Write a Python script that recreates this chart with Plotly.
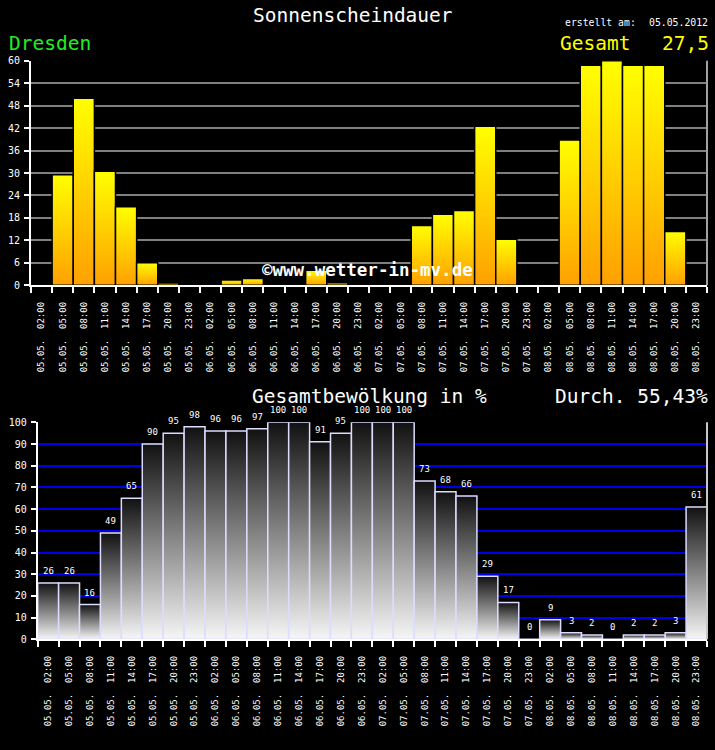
import plotly.graph_objects as go

W, H = 715, 750

# ---------------- data ----------------
times = ["02:00", "05:00", "08:00", "11:00", "14:00", "17:00", "20:00", "23:00"]
days = ["05.05.", "06.05.", "07.05.", "08.05."]
tick_labels = [f"{d}  {t}" for d in days for t in times]

sun_minutes = [0, 29.5, 50, 30.5, 21, 6, 0.6, 0,
               0, 1.4, 1.8, 0, 0, 4, 0.7, 0,
               0, 0, 16, 19, 20, 42.5, 12.3, 0,
               0, 38.8, 58.8, 60, 58.8, 58.8, 14.4, 0]
cloud_pct = [26, 26, 16, 49, 65, 90, 95, 98, 96, 96, 97, 100, 100, 91, 95, 100,
             100, 100, 73, 68, 66, 29, 17, 0, 9, 3, 2, 0, 2, 2, 3, 61]

sun_ticks = list(range(0, 61, 6))
cloud_ticks = list(range(0, 101, 10))

FONT = "DejaVu Sans Mono"
n = len(tick_labels)
idx = list(range(n))
bounds = [k - 0.5 for k in range(n + 1)]

fig = go.Figure()


def add_bars(vals, xa, ya, cs, line_color, draw_zero):
    for k, v in enumerate(vals):
        if v == 0 and not draw_zero:
            continue
        xs = [k - 0.5, k - 0.5, k + 0.5, k + 0.5, k - 0.5]
        ys = [0, v, v, 0, 0]
        tr = go.Scatter(x=xs, y=ys, xaxis=xa, yaxis=ya, mode="lines",
                        line=dict(color=line_color, width=1.5),
                        hoverinfo="skip", showlegend=False)
        if v > 0:
            tr.update(fill="toself",
                      fillgradient=dict(type="vertical", colorscale=cs))
        fig.add_trace(tr)


add_bars(sun_minutes, "x", "y", [[0, "#ffa000"], [1, "#ffff00"]], "#000000", False)
add_bars(cloud_pct, "x2", "y2", [[0, "#f6f6f6"], [1, "#111111"]], "#dcdcff", True)

# value labels on cloud bars
annotations = []
for k, v in enumerate(cloud_pct):
    annotations.append(dict(x=k, y=v, xref="x2", yref="y2", text=str(v),
                            showarrow=False, yshift=12, borderpad=0,
                            font=dict(family=FONT, size=9, color="white")))


def px_x(p):
    return p / W


def px_y(p):
    return 1 - p / H


def txt(text, x, y, size, color, xanchor="left", bold=False):
    t = f"<b>{text}</b>" if bold else text
    annotations.append(dict(x=px_x(x), y=px_y(y), xref="paper", yref="paper",
                            text=t, showarrow=False, xanchor=xanchor,
                            yanchor="middle",
                            font=dict(family=FONT, size=size, color=color)))


txt("Sonnenscheindauer", 352.5, 15, 19.5, "white", "center")
txt("erstellt am:", 563, 23, 9.8, "white")
txt("05.05.2012", 710, 23, 9.8, "white", "right")
txt("Dresden", 7, 43, 19.5, "#22ee22")
txt("Gesamt", 558, 43, 19.5, "#ffff00")
txt("27,5", 711, 43, 19.5, "#ffff00", "right")
txt("Gesamtbewölkung in %", 250, 396, 19.5, "white")
txt("Durch. 55,43%", 710, 396, 19.5, "white", "right")
txt("©www.wetter-in-mv.de", 260, 270, 17.5, "white", bold=True)

tickfont_x = dict(family=FONT, size=9, color="white")
tickfont_y = dict(family=FONT, size=10, color="white")

top_dom_x = [31 / W, 707 / W]
top_dom_y = [1 - 285.3 / H, 1 - 60.7 / H]
bot_dom_x = [37.7 / W, 707 / W]
bot_dom_y = [1 - 639.3 / H, 1 - 422.3 / H]

common_x = dict(range=[-0.5, n - 0.5], tickmode="array", tickvals=idx,
                ticktext=tick_labels, tickangle=-90, ticks="",
                tickfont=tickfont_x, showline=True, linecolor="white",
                linewidth=2, showgrid=False, zeroline=False,
                ticklabelstandoff=11, automargin=False,
                minor=dict(tickmode="array", tickvals=bounds, ticks="outside",
                           ticklen=6, tickwidth=2, tickcolor="white",
                           showgrid=False))

fig.update_layout(
    width=W, height=H, autosize=False,
    margin=dict(l=0, r=0, t=0, b=0, pad=0, autoexpand=False),
    paper_bgcolor="black", plot_bgcolor="black",
    showlegend=False,
    xaxis=dict(domain=top_dom_x, anchor="y", **common_x),
    yaxis=dict(domain=top_dom_y, anchor="x", range=[0, 60], tickmode="array",
               tickvals=sun_ticks, ticks="outside", ticklen=5, tickwidth=2,
               tickcolor="white", tickfont=tickfont_y, showgrid=True,
               gridcolor="#808080", gridwidth=2, showline=True,
               linecolor="white", linewidth=2, zeroline=False,
               ticklabelstandoff=2, automargin=False),
    xaxis2=dict(domain=bot_dom_x, anchor="y2", **common_x),
    yaxis2=dict(domain=bot_dom_y, anchor="x2", range=[0, 100], tickmode="array",
                tickvals=cloud_ticks, ticks="outside", ticklen=5, tickwidth=2,
                tickcolor="white", tickfont=tickfont_y, showgrid=True,
                gridcolor="#0000e6", gridwidth=2, showline=True,
                linecolor="white", linewidth=2, zeroline=False,
                ticklabelstandoff=2, automargin=False),
    # overlay axes for the inner half of the crossing ticks
    xaxis3=dict(overlaying="x", anchor="y", range=[-0.5, n - 0.5],
                tickmode="array", tickvals=bounds, ticks="inside", ticklen=6,
                tickwidth=2, tickcolor="white", showticklabels=False,
                showgrid=False, zeroline=False, showline=False, side="bottom",
                automargin=False),
    yaxis3=dict(overlaying="y", anchor="x", range=[0, 60], tickmode="array",
                tickvals=sun_ticks, ticks="inside", ticklen=5, tickwidth=2,
                tickcolor="white", showticklabels=False, showgrid=False,
                zeroline=False, showline=False, side="left", automargin=False),
    yaxis4=dict(overlaying="y2", anchor="x2", range=[0, 100], tickmode="array",
                tickvals=cloud_ticks, ticks="inside", ticklen=5, tickwidth=2,
                tickcolor="white", showticklabels=False, showgrid=False,
                zeroline=False, showline=False, side="left", automargin=False),
    annotations=annotations,
    shapes=[
        dict(type="line", xref="x domain", yref="y domain", x0=1, x1=1, y0=0,
             y1=1, line=dict(color="#a0a0a0", width=2)),
        dict(type="line", xref="x2 domain", yref="y2 domain", x0=1, x1=1,
             y0=0, y1=1, line=dict(color="#c8c8c8", width=2)),
    ],
)

fig.write_html("out.html")
